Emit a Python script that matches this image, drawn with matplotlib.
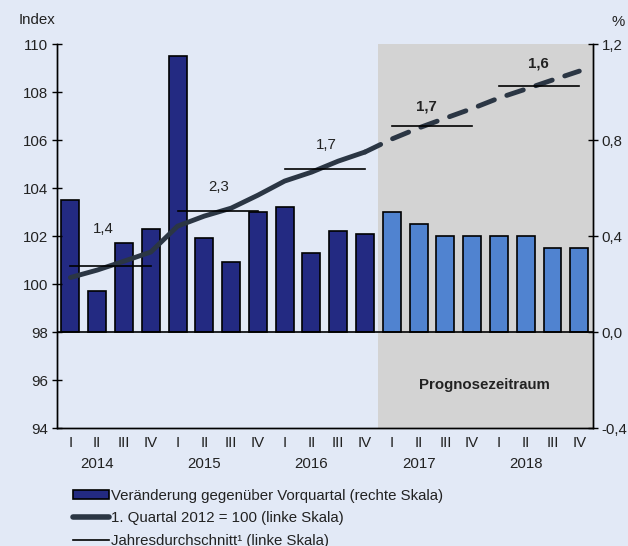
import matplotlib
matplotlib.use("Agg")
import matplotlib.pyplot as plt
from matplotlib.patches import Patch
from matplotlib.lines import Line2D
from matplotlib.ticker import FuncFormatter, FixedLocator
import matplotlib.transforms as mtransforms

plt.rcParams['font.family'] = ['Liberation Sans', 'DejaVu Sans']
plt.rcParams['lines.scale_dashes'] = False

# ---- data ----
years = ['2014', '2015', '2016', '2017', '2018']
quarters = ['I', 'II', 'III', 'IV']
bar_change = [0.55, 0.17, 0.37, 0.43, 1.15, 0.39, 0.29, 0.50,
              0.52, 0.33, 0.42, 0.41, 0.50, 0.45, 0.40, 0.40,
              0.40, 0.40, 0.35, 0.35]
index_line = [100.27, 100.58, 100.95, 101.33, 102.41, 102.83, 103.16, 103.70,
              104.29, 104.66, 105.12, 105.50, 106.04, 106.50, 106.91, 107.31,
              107.75, 108.12, 108.50, 108.87]
annual_avg = [100.73, 103.03, 104.79, 106.58, 108.27]
annual_growth = ['1,4', '2,3', '1,7', '1,7', '1,6']
forecast_start = 12  # first forecast quarter index (2017 I)

BG = '#e2e9f6'
DARK = '#232a82'
LIGHT = '#5083d0'
LINEC = '#2b3644'
SHADE = '#d3d3d3'
TXT = '#222222'
FS = 10.8

fig = plt.figure(figsize=(6.28, 5.46), dpi=100, facecolor=BG)
ax2 = fig.add_axes([57/628, 1-428/546, (592.7-57)/628, (428-44)/546])
ax = ax2.twinx()
ax2.set_facecolor(BG)
ax.patch.set_visible(False)
ax.set_zorder(ax2.get_zorder() + 1)

n = len(bar_change)
xs = list(range(n))

# forecast shading
ax2.axvspan(forecast_start - 0.5, n - 0.5, color=SHADE, zorder=0, lw=0)

colors = [DARK if i < forecast_start else LIGHT for i in xs]
ax2.bar(xs, bar_change, width=0.67, color=colors, edgecolor='black', linewidth=1.2, zorder=2)
ax2.axhline(0, color='black', lw=1.2, zorder=3)

# index line (left scale)
ax.plot(xs[:forecast_start], index_line[:forecast_start], color=LINEC, lw=3.5,
        solid_capstyle='round', zorder=5)
ax.plot(xs[forecast_start - 1:], index_line[forecast_start - 1:], color=LINEC, lw=3.5,
        dashes=(12.5, 9.5), dash_capstyle='round', zorder=5)

# annual averages
for k, v in enumerate(annual_avg):
    ax.plot([4 * k, 4 * k + 3], [v, v], color='black', lw=1.2, zorder=6)

label_pos = [(1.23, 102.29), (5.52, 104.05), (9.56, 105.79), (13.3, 107.39), (17.46, 109.17)]
for k, (lab, (x, y)) in enumerate(zip(annual_growth, label_pos)):
    ax.text(x, y, lab, ha='center', va='center', fontsize=FS,
            fontweight='bold' if 4 * k >= forecast_start else 'normal', color=TXT, zorder=7)

ax.text(15.47, 95.78, 'Prognosezeitraum', ha='center', va='center', fontsize=FS,
        fontweight='bold', color=TXT, zorder=7)

# axes: index scale on left, percent on right
ax.yaxis.tick_left()
ax.yaxis.set_label_position('left')
ax2.yaxis.tick_right()
ax.set_ylim(94, 110)
ax.set_yticks(range(94, 111, 2))
ax2.set_ylim(-0.4, 1.2)
ax2.set_yticks([-0.4, 0.0, 0.4, 0.8, 1.2])
ax2.yaxis.set_major_formatter(FuncFormatter(lambda v, p: f"{v:.1f}".replace('.', ',')))
ax.set_xlim(-0.5, n - 0.5)
ax2.set_xlim(-0.5, n - 0.5)

for a in (ax, ax2):
    a.spines['top'].set_visible(False)
    for s in a.spines.values():
        s.set_linewidth(1.0)

ax.tick_params(axis='y', direction='inout', length=7, width=1, labelsize=FS, pad=3,
               labelcolor=TXT)
ax2.tick_params(axis='y', direction='inout', length=7, width=1, labelsize=FS, pad=3,
                labelcolor=TXT)

# x ticks: year boundaries (major) and quarter labels (minor)
ax2.xaxis.set_major_locator(FixedLocator([4 * k - 0.5 for k in range(len(years) + 1)]))
ax2.set_xticklabels([])
ax2.xaxis.set_minor_locator(FixedLocator(xs))
ax2.set_xticklabels([quarters[i % 4] for i in xs], minor=True)
ax2.tick_params(axis='x', which='major', direction='inout', length=8, width=1)
ax2.tick_params(axis='x', which='minor', length=0, labelsize=FS, pad=6, labelcolor=TXT)
ax.set_xticks([])

trans = mtransforms.blended_transform_factory(ax2.transData, ax2.transAxes)
for k, y in enumerate(years):
    ax2.text(4 * k + 1, -0.093, y, transform=trans, ha='center', va='center', fontsize=FS,
             color=TXT)

fig.text(19/628, 1 - 20/546, 'Index', ha='left', va='center', fontsize=FS, color=TXT)
fig.text(611/628, 1 - 22/546, '%', ha='left', va='center', fontsize=FS, color=TXT)

handles = [Patch(facecolor=DARK, edgecolor='black', linewidth=1.2),
           Line2D([0], [0], color=LINEC, lw=4, solid_capstyle='round'),
           Line2D([0], [0], color='black', lw=1.2)]
labels = ['Veränderung gegenüber Vorquartal (rechte Skala)',
          '1. Quartal 2012 = 100 (linke Skala)',
          'Jahresdurchschnitt¹ (linke Skala)']
fig.legend(handles, labels, loc='upper left', bbox_to_anchor=(73/628, 1 - 489/546),
           frameon=False, fontsize=FS, handlelength=2.4, handleheight=0.55,
           handletextpad=0.15, labelspacing=0.55, borderaxespad=0, borderpad=0,
           labelcolor=TXT)

fig.savefig('out.png', dpi=100, facecolor=BG)
